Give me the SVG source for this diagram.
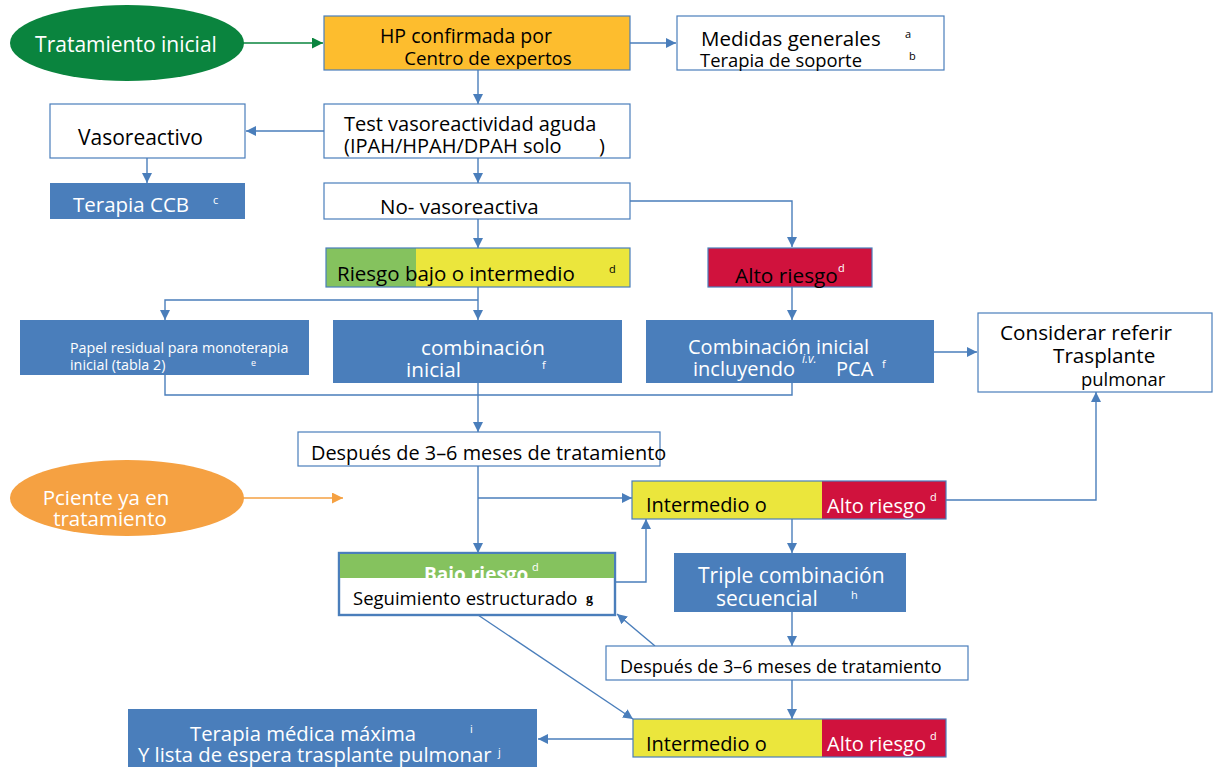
<svg xmlns="http://www.w3.org/2000/svg" width="1213" height="767" viewBox="0 0 1213 767">
  <style>
    text { font-family: "Open Sans", "Liberation Sans", sans-serif; font-size: 20px; }
    .box { fill: #ffffff; stroke: #4a7ebb; stroke-width: 1.2; }
    .blue { fill: #4a7ebb; }
    .edge { fill: none; stroke: #4a7ebb; stroke-width: 1.4; }
    .t { fill: #000; }
    .w { fill: #fff; }
    .sup { font-size: 11px; }
  </style>
  <defs>
    <marker id="ah" viewBox="0 0 10 10" refX="10" refY="5" markerWidth="10" markerHeight="10" markerUnits="userSpaceOnUse" orient="auto">
      <path d="M0,0 L10,5 L0,10 z" fill="#4a7ebb"/>
    </marker>
    <marker id="ahg" viewBox="0 0 10 10" refX="10" refY="5" markerWidth="11" markerHeight="11" markerUnits="userSpaceOnUse" orient="auto">
      <path d="M0,0 L10,5 L0,10 z" fill="#0a843e"/>
    </marker>
    <marker id="aho" viewBox="0 0 10 10" refX="10" refY="5" markerWidth="11" markerHeight="11" markerUnits="userSpaceOnUse" orient="auto">
      <path d="M0,0 L10,5 L0,10 z" fill="#f5a142"/>
    </marker>
  </defs>

  <rect width="1213" height="767" fill="#ffffff"/>

  <!-- connectors -->
  <g id="connectors">
    <line x1="243" y1="43" x2="323" y2="43" stroke="#0a843e" stroke-width="1.4" marker-end="url(#ahg)"/>
    <line x1="243" y1="498" x2="343" y2="498" stroke="#f5a142" stroke-width="1.4" marker-end="url(#aho)"/>
    <line class="edge" x1="630" y1="43" x2="676" y2="43" marker-end="url(#ah)"/>
    <line class="edge" x1="478" y1="70" x2="478" y2="104" marker-end="url(#ah)"/>
    <line class="edge" x1="324" y1="131" x2="246" y2="131" marker-end="url(#ah)"/>
    <line class="edge" x1="147" y1="158" x2="147" y2="183" marker-end="url(#ah)"/>
    <line class="edge" x1="478" y1="158" x2="478" y2="183" marker-end="url(#ah)"/>
    <polyline class="edge" points="630,201 792,201 792,247" marker-end="url(#ah)"/>
    <line class="edge" x1="478" y1="219" x2="478" y2="248" marker-end="url(#ah)"/>
    <line class="edge" x1="478" y1="287" x2="478" y2="320" marker-end="url(#ah)"/>
    <polyline class="edge" points="478,300 165,300 165,320" marker-end="url(#ah)"/>
    <line class="edge" x1="792" y1="287" x2="792" y2="320" marker-end="url(#ah)"/>
    <line class="edge" x1="934" y1="352" x2="977" y2="352" marker-end="url(#ah)"/>
    <polyline class="edge" points="165,375 165,395 792,395 792,383"/>
    <line class="edge" x1="478" y1="383" x2="478" y2="432" marker-end="url(#ah)"/>
    <line class="edge" x1="478" y1="466" x2="478" y2="553" marker-end="url(#ah)"/>
    <line class="edge" x1="478" y1="498" x2="632" y2="498" marker-end="url(#ah)"/>
    <polyline class="edge" points="946,500 1096,500 1096,392" marker-end="url(#ah)"/>
    <line class="edge" x1="792" y1="519" x2="792" y2="553" marker-end="url(#ah)"/>
    <polyline class="edge" points="615,582 646,582 646,519" marker-end="url(#ah)"/>
    <line class="edge" x1="792" y1="612" x2="792" y2="646" marker-end="url(#ah)"/>
    <line class="edge" x1="655" y1="646" x2="617" y2="614" marker-end="url(#ah)"/>
    <line class="edge" x1="478" y1="615" x2="633" y2="719" marker-end="url(#ah)"/>
    <line class="edge" x1="792" y1="680" x2="792" y2="719" marker-end="url(#ah)"/>
    <line class="edge" x1="633" y1="739" x2="538" y2="739" marker-end="url(#ah)"/>
  </g>

  <!-- start ellipses -->
  <g id="tratamiento-inicial">
    <ellipse cx="127" cy="43" rx="117" ry="38" fill="#0a843e"/>
    <text x="126" y="52" class="w" text-anchor="middle" style="font-size:21px">Tratamiento inicial</text>
  </g>
  <g id="paciente-en-tratamiento">
    <ellipse cx="127" cy="498" rx="117" ry="38" fill="#f5a142"/>
    <text x="106" y="505" class="w" text-anchor="middle" style="font-size:20.5px">Pciente ya en</text>
    <text x="110" y="526" class="w" text-anchor="middle" style="font-size:20.5px">tratamiento</text>
  </g>

  <g id="hp-confirmada">
    <rect x="324" y="16" width="306" height="54" fill="#fdbd2e" stroke="#4a7ebb" stroke-width="1.2"/>
    <text x="466" y="43" class="t" text-anchor="middle" style="font-size:19.5px">HP confirmada por</text>
    <text x="488" y="65" class="t" text-anchor="middle" style="font-size:18.7px">Centro de expertos</text>
  </g>

  <g id="medidas-generales">
    <rect class="box" x="677" y="16" width="267" height="54"/>
    <text x="701" y="46" class="t" style="font-size:20.5px">Medidas generales</text>
    <text x="905" y="38" class="t sup">a</text>
    <text x="700" y="67" class="t" style="font-size:18.4px">Terapia de soporte</text>
    <text x="909" y="60" class="t sup">b</text>
  </g>

  <g id="test-vasoreactividad">
    <rect class="box" x="324" y="104" width="306" height="54"/>
    <text x="344" y="131" class="t">Test vasoreactividad aguda</text>
    <text x="344" y="153" class="t">(IPAH/HPAH/DPAH solo</text>
    <text x="599" y="153" class="t">)</text>
  </g>

  <g id="vasoreactivo">
    <rect class="box" x="50" y="104" width="195" height="54"/>
    <text x="78" y="145" class="t" style="font-size:21px">Vasoreactivo</text>
  </g>

  <g id="terapia-ccb">
    <rect class="blue" x="50" y="183" width="195" height="36"/>
    <text x="73" y="212" class="w" style="font-size:20.5px">Terapia CCB</text>
    <text x="213" y="204" class="w sup">c</text>
  </g>

  <g id="no-vasoreactiva">
    <rect class="box" x="324" y="183" width="306" height="36"/>
    <text x="380" y="214" class="t" style="font-size:20.5px">No- vasoreactiva</text>
  </g>

  <g id="riesgo-bajo-intermedio">
    <rect x="326" y="248" width="90" height="39" fill="#85c25e"/>
    <rect x="416" y="248" width="214" height="39" fill="#ebe63c"/>
    <rect x="326" y="248" width="304" height="39" fill="none" stroke="#4a7ebb" stroke-width="1.2"/>
    <text x="337" y="281" class="t" style="font-size:20.5px">Riesgo bajo o intermedio</text>
    <text x="609" y="273" class="t sup">d</text>
  </g>

  <g id="alto-riesgo">
    <rect x="708" y="248" width="164" height="39" fill="#d0123d" stroke="#4a7ebb" stroke-width="1.2"/>
    <text x="735" y="283" class="t" style="font-size:20.8px">Alto riesgo</text>
    <text x="838" y="272" class="w sup">d</text>
  </g>

  <g id="papel-residual">
    <rect class="blue" x="20" y="320" width="289" height="55"/>
    <text x="70" y="353" class="w" style="font-size:14.3px">Papel residual para monoterapia</text>
    <text x="70" y="370" class="w" style="font-size:14.3px">inicial (tabla 2)</text>
    <text x="251" y="366" class="w" style="font-size:9px">e</text>
  </g>

  <g id="combinacion-inicial">
    <rect class="blue" x="333" y="320" width="289" height="63"/>
    <text x="421" y="355" class="w" style="font-size:20.7px">combinación</text>
    <text x="406" y="377" class="w" style="font-size:20.7px">inicial</text>
    <text x="542" y="369" class="w sup">f</text>
  </g>

  <g id="combinacion-iv">
    <rect class="blue" x="646" y="320" width="288" height="63"/>
    <text x="688" y="354" class="w">Combinación inicial</text>
    <text x="693" y="376" class="w">incluyendo</text>
    <text x="802" y="363" class="w" style="font-size:12px;font-style:italic">i.v.</text>
    <text x="836" y="376" class="w">PCA</text>
    <text x="882" y="368" class="w sup">f</text>
  </g>

  <g id="considerar-trasplante">
    <rect class="box" x="978" y="313" width="234" height="79"/>
    <text x="1000" y="340" class="t" style="font-size:20.7px">Considerar referir</text>
    <text x="1053" y="363" class="t" style="font-size:20.7px">Trasplante</text>
    <text x="1081" y="386" class="t" style="font-size:18.4px">pulmonar</text>
  </g>

  <g id="despues-1">
    <rect class="box" x="298" y="432" width="362" height="34"/>
    <text x="311" y="460" class="t" style="font-size:19.9px">Después de 3–6 meses de tratamiento</text>
  </g>

  <g id="intermedio-alto-1">
    <rect x="632" y="481" width="190" height="38" fill="#ebe63c"/>
    <rect x="822" y="481" width="124" height="38" fill="#d0123d"/>
    <rect x="632" y="481" width="314" height="38" fill="none" stroke="#4a7ebb" stroke-width="1.2"/>
    <text x="646" y="512" class="t">Intermedio o</text>
    <text x="827" y="513" class="w">Alto riesgo</text>
    <text x="930" y="501" class="w sup">d</text>
  </g>

  <g id="bajo-riesgo">
    <rect x="339" y="553" width="276" height="62" fill="#ffffff" stroke="#4a7ebb" stroke-width="2.4"/>
    <rect x="340" y="554" width="274" height="24" fill="#85c25e"/>
    <svg x="340" y="554" width="274" height="24" overflow="hidden">
      <text x="84" y="27" class="w" style="font-size:19px;font-weight:bold">Bajo riesgo</text>
      <text x="192" y="17" class="w sup">d</text>
    </svg>
    <text x="353" y="605" class="t" style="font-size:18.5px">Seguimiento estructurado</text>
    <text x="586" y="603" class="t" style="font-size:14px;font-weight:bold;font-family:'Liberation Serif',serif">g</text>
  </g>

  <g id="triple-combinacion">
    <rect class="blue" x="674" y="553" width="232" height="59"/>
    <text x="698" y="583" class="w" style="font-size:21px">Triple combinación</text>
    <text x="716" y="606" class="w" style="font-size:21px">secuencial</text>
    <text x="851" y="599" class="w sup">h</text>
  </g>

  <g id="despues-2">
    <rect class="box" x="606" y="646" width="362" height="34"/>
    <text x="620" y="673" class="t" style="font-size:18px">Después de 3–6 meses de tratamiento</text>
  </g>

  <g id="intermedio-alto-2">
    <rect x="633" y="719" width="189" height="38" fill="#ebe63c"/>
    <rect x="822" y="719" width="124" height="38" fill="#d0123d"/>
    <rect x="633" y="719" width="313" height="38" fill="none" stroke="#4a7ebb" stroke-width="1.2"/>
    <text x="646" y="751" class="t">Intermedio o</text>
    <text x="827" y="751" class="w">Alto riesgo</text>
    <text x="930" y="740" class="w sup">d</text>
  </g>

  <g id="terapia-maxima">
    <rect class="blue" x="128" y="709" width="409" height="58"/>
    <text x="303" y="741" class="w" text-anchor="middle" style="font-size:20.3px">Terapia médica máxima</text>
    <text x="470" y="733" class="w sup">i</text>
    <text x="138" y="762" class="w" style="font-size:20.3px">Y lista de espera trasplante pulmonar</text>
    <text x="498" y="756" class="w sup">j</text>
  </g>
</svg>
